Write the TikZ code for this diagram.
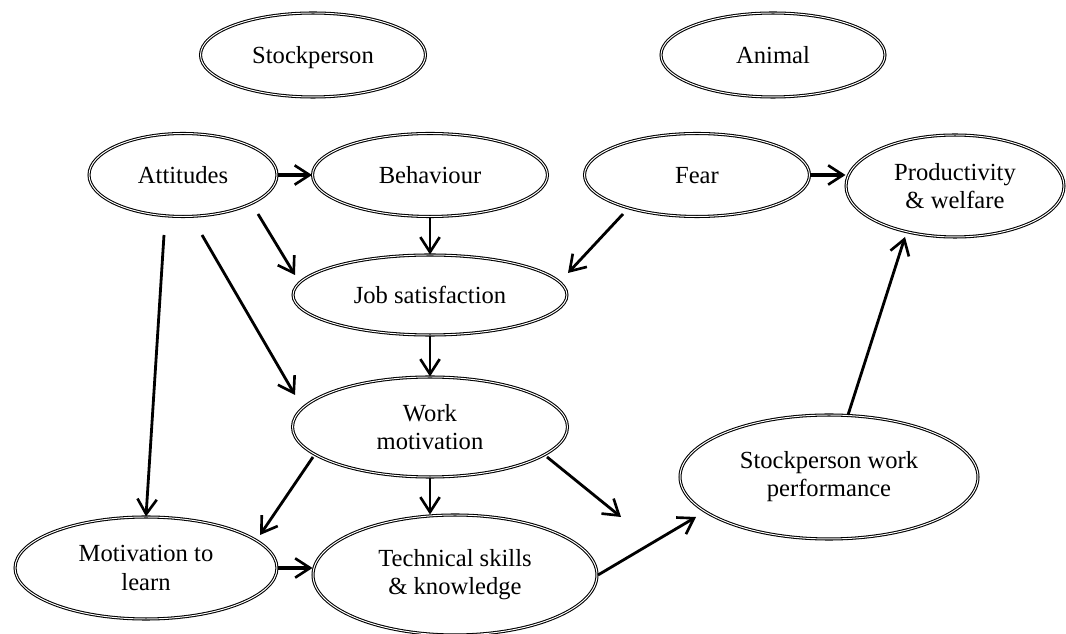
\documentclass[tikz,border=0pt]{standalone}
\usepackage{fontspec}
\setmainfont{Liberation Serif}
\usetikzlibrary{arrows.meta,positioning,calc,shapes.geometric}

\begin{document}
\begin{tikzpicture}[
			x=0.02cm, y=-0.02cm,
			oval/.style={
				ellipse,
				draw,
				double=white,
				double distance=0.55pt,
				line width=0.6pt,
				inner sep=0pt,
				align=center,
				font=\fontsize{14}{16}\selectfont
			},
			oneline/.style={oval,text depth=0pt},
			arrow/.style={-{Straight Barb[length=8.5pt,width=11pt,line width=1.5pt]},line width=1.6pt},
			bigarrow/.style={arrow,line width=2.6pt}
			]
			\useasboundingbox (0,0) rectangle (1066,634);
			
			\node[oneline,minimum width=4.5cm,minimum height=1.68cm] (stock) at (313,55) {Stockperson};
			\node[oneline,minimum width=4.48cm,minimum height=1.68cm] (animal) at (773,55) {Animal};
			
			\node[oneline,minimum width=3.76cm,minimum height=1.66cm] (att) at (183,175) {Attitudes};
			\node[oneline,minimum width=4.7cm,minimum height=1.66cm] (beh) at (430,175) {Behaviour};
			\node[oneline,minimum width=4.5cm,minimum height=1.66cm] (fear) at (697,175) {Fear};
			\node[oval,minimum width=4.36cm,minimum height=2.04cm] (prod) at (955,186) {Productivity\\ \& welfare};
			
			\node[oneline,minimum width=5.48cm,minimum height=1.6cm] (job) at (430,295) {Job satisfaction};
			\node[oval,minimum width=5.5cm,minimum height=2cm] (work) at (430,427) {Work\\ motivation};
			\node[oval,minimum width=5.96cm,minimum height=2.48cm] (perf) at (829,477) {Stockperson work\\ performance};
			
			\node[oval,minimum width=5.24cm,minimum height=2.04cm] (learn) at (146,568) {Motivation to\\ learn};
			\node[oval,minimum width=5.68cm,minimum height=2.4cm] (tech) at (455,575) {Technical skills\\ \& knowledge};
			
			\coordinate (loose) at (621,517);
			
			% top row
			\draw[bigarrow] (att.east)--(beh.west);
			\draw[bigarrow] (fear.east)--(prod.west |- fear.east);
			
			% into job satisfaction
			\draw[arrow] (beh.south)--(job.north);
			\draw[arrow] ($(att.center)+(75,39)$)--($(job.center)+(-135,-20)$);
			\draw[arrow] ($(fear.center)+(-74,39)$)--($(job.center)+(138,-22)$);
			
			% into work motivation
			\draw[arrow] (job.south)--(work.north);
			\draw[arrow] ($(att.center)+(19,60)$)--($(work.center)+(-135,-32)$);
			
			% out of work motivation
			\draw[arrow] ($(att.center)+(-19,60)$)--(learn.north);
			\draw[arrow] ($(work.center)+(-117,30)$)--($(learn.center)+(114,-33)$);
			\draw[arrow] (work.south)--(work.south |- tech.north);
			\draw[arrow] ($(work.center)+(117,30)$)--(loose);
			
			% bottom row
			\draw[bigarrow] (learn.east)--(learn.east -| tech.west);
			\draw[arrow] ($(tech.center)+(143,0)$)--($(perf.center)+(-133,40)$);
			\draw[arrow] ($(perf.center)+(19,-62)$)--($(prod.center)+(-50,51)$);
			
		\end{tikzpicture}
\end{document}
